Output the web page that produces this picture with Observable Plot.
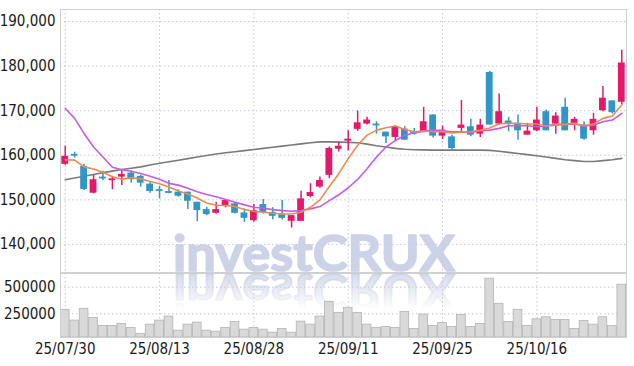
<!DOCTYPE html>
<html>
<head>
<meta charset="utf-8">
<script src="https://cdn.jsdelivr.net/npm/d3@7"></script>
<script src="https://cdn.jsdelivr.net/npm/@observablehq/plot@0.6"></script>
<style>
  html, body { margin: 0; padding: 0; background: #fff; overflow: hidden; }
  svg { display: block; }
</style>
</head>
<body>
<div id="chart"></div>
<script>
// ---- data ----
const dates = ["25/07/30","25/07/31","25/08/01","25/08/04","25/08/05","25/08/06","25/08/07","25/08/08","25/08/11","25/08/12",
  "25/08/13","25/08/14","25/08/18","25/08/19","25/08/20","25/08/21","25/08/22","25/08/25","25/08/26","25/08/27",
  "25/08/28","25/08/29","25/09/01","25/09/02","25/09/03","25/09/04","25/09/05","25/09/08","25/09/09","25/09/10",
  "25/09/11","25/09/12","25/09/15","25/09/16","25/09/17","25/09/18","25/09/19","25/09/22","25/09/23","25/09/24",
  "25/09/25","25/09/26","25/09/29","25/09/30","25/10/01","25/10/02","25/10/10","25/10/13","25/10/14","25/10/15",
  "25/10/16","25/10/17","25/10/20","25/10/21","25/10/22","25/10/23","25/10/24","25/10/27","25/10/28","25/10/29"];
const openP = [157970,160200,157500,151490,155100,154300,155100,156000,155260,153520,
  152300,151850,151720,151720,149460,147810,146980,148720,149100,147070,
  145330,148940,147200,146680,145170,145170,150750,152850,155490,161350,
  163160,165800,167000,167000,165190,164000,165870,165260,165260,169030,
  164290,164130,166030,166390,164740,178580,167000,167680,167150,164510,
  165490,169770,167000,170770,167160,166770,165490,170000,172190,171890];
const highP = [162030,160700,157970,155490,156390,155260,156770,156460,155490,153910,
  153000,154360,152260,151720,149460,148330,149460,150000,149200,147970,
  148940,150070,148200,149840,146460,151940,153610,155100,161870,163000,
  165480,169930,168510,167520,165190,166610,166400,166020,170770,169100,
  166550,164500,172260,168060,168060,178800,173770,168500,169030,167150,
  170770,170150,169550,172800,168510,167520,169410,175420,172190,183540];
const lowP = [157740,159400,152100,151360,154360,152260,153230,153750,152850,151490,
  150230,151360,150590,147810,145100,146460,146840,148200,146840,144950,
  144950,146840,145560,145490,143680,145170,150450,152620,154740,160750,
  160970,165350,166770,164740,162640,163230,163390,164510,165030,163900,
  163540,161130,165260,164130,163990,166770,166770,165260,163390,164510,
  165260,165490,164740,165490,165490,163390,164510,169770,169250,171290];
const closeP = [159770,159800,152330,154510,154700,154700,155710,154510,153750,151880,
  151900,151450,150810,149690,147590,146680,147810,149840,146980,145850,
  147590,147200,146300,145850,146460,150230,151650,154360,161510,162030,
  163610,167290,167900,166600,164130,166390,163390,164740,167520,164290,
  165640,161510,166770,164510,166770,166770,169770,166930,165490,165420,
  167900,165490,168800,165490,168060,163610,168060,172800,169550,180700];
const volume = [287000,186000,296600,211400,135700,135700,154600,116800,60000,148000,
  186000,223700,91200,148000,166900,91200,81800,116800,173500,100700,
  116800,100700,72300,107300,72300,176400,148000,223700,362800,258700,
  306000,258700,148000,116800,126200,116800,268200,107300,242600,135700,
  164100,126200,239800,126200,154600,580400,343900,173500,287100,135700,
  198200,217100,192500,192500,107300,183000,148000,217100,135700,523600];
const ma5 = [159000,158900,157400,156900,156200,155200,154600,154950,154700,154100,
  153600,152900,152000,151300,150400,149300,148800,148715,148490,147810,
  147430,147200,146980,146840,146840,147200,148330,150000,153000,155870,
  159250,162260,164510,165640,166160,166550,165800,165260,165450,165260,
  165260,165030,165150,165260,165600,166100,167080,167150,167150,167000,
  167000,166550,166770,166930,167150,166610,167000,168280,168800,171290];
const ma20 = [170540,168280,164900,161870,159620,157300,156770,156400,155900,155300,
  154600,153700,153300,152600,151800,151200,150700,150070,149460,148870,
  148330,148110,147810,147590,147430,147590,147970,148490,149840,151130,
  152710,154580,156960,159620,161870,163270,164510,165030,165420,165640,
  165490,165260,165260,165120,165500,165640,166030,166610,166610,166610,
  166390,166610,166930,166930,167000,166550,166770,167520,167900,169410];
const ma60 = [154500,154900,155300,155700,156100,156450,156800,157100,157400,157800,
  158200,158550,158900,159250,159600,159950,160300,160550,160800,161050,
  161300,161550,161800,162050,162300,162550,162800,163000,163000,162950,
  162900,162800,162500,162150,161850,161550,161350,161250,161200,161150,
  161150,161150,161150,161150,161150,161100,160900,160650,160400,160150,
  159900,159600,159300,159000,158800,158600,158600,158800,159000,159300];
const priceTicks = [140000,150000,160000,170000,180000,190000];
const volumeTicks = [250000,500000];
const dateTicks = ["25/07/30","25/08/13","25/08/28","25/09/11","25/09/25","25/10/16"];
const watermark = "investCRUX";

// ---- build table ----
const candles = dates.map((d, i) => ({
  date: d, open: openP[i], high: highP[i], low: lowP[i], close: closeP[i],
  volume: volume[i], ma5: ma5[i], ma20: ma20[i], ma60: ma60[i]
}));

const UP = "#e5196c", DOWN = "#2f96c7";
const GRID = "#c2c6dc";
const FRAME = "#d0d0d0";
const font = "'DejaVu Sans Condensed', sans-serif";
const dash = "1.5,2.5";
const colorOf = d => d.close >= d.open ? UP : DOWN;
const tickSet = new Set(dateTicks);

const priceChart = Plot.plot({
  width: 634, height: 273,
  marginLeft: 60, marginRight: 8, marginTop: 9, marginBottom: 1,
  style: {fontFamily: font, fontSize: "15px", color: "#1a1a1a", background: "white"},
  x: {type: "band", domain: dates, paddingInner: 0.28, paddingOuter: 0.14, round: false, axis: null},
  y: {domain: [133700, 192700], ticks: priceTicks, tickFormat: d3.format(","), tickSize: 0, tickPadding: 5, label: null},
  color: {type: "identity"},
  marks: [
    Plot.ruleY(priceTicks, {stroke: GRID, strokeDasharray: dash}),
    Plot.ruleX(dateTicks, {stroke: GRID, strokeDasharray: dash}),
    Plot.frame({stroke: FRAME}),
    Plot.line(candles, {x: "date", y: "ma60", stroke: "#7a7a7a", strokeWidth: 1.6}),
    Plot.ruleX(candles, {x: "date", y1: "low", y2: "high", stroke: colorOf, strokeWidth: 1.5}),
    Plot.barY(candles, {x: "date", y1: "open", y2: "close", fill: colorOf}),
    Plot.line(candles, {x: "date", y: "ma20", stroke: "#c65be6", strokeWidth: 1.6}),
    Plot.line(candles, {x: "date", y: "ma5", stroke: "#ef8a4e", strokeWidth: 1.6})
  ]
});

const VMIN = 27000;
const volumeChart = Plot.plot({
  width: 634, height: 93,
  marginLeft: 60, marginRight: 8, marginTop: 0, marginBottom: 29,
  style: {fontFamily: font, fontSize: "15px", color: "#1a1a1a", background: "white"},
  x: {type: "band", domain: dates, paddingInner: 0.08, paddingOuter: 0.04, round: false,
      tickSize: 0, tickPadding: 6, tickFormat: d => tickSet.has(d) ? d : "", label: null},
  y: {domain: [VMIN, 629000], ticks: volumeTicks, tickFormat: d => String(d), tickSize: 0, tickPadding: 5, label: null},
  marks: [
    Plot.ruleY(volumeTicks, {stroke: GRID, strokeDasharray: dash}),
    Plot.ruleX(dateTicks, {stroke: GRID, strokeDasharray: dash}),
    Plot.barY(candles, {x: "date", y1: () => VMIN, y2: "volume", fill: "#d9d9d9", stroke: "#b3b3b3", strokeWidth: 0.8}),
    Plot.frame({stroke: FRAME})
  ]
});

// watermark
const wmFont = "Lato, 'Open Sans', sans-serif";
d3.select(priceChart).append("text")
  .attr("x", 173).attr("y", 271)
  .attr("text-anchor", "start")
  .attr("textLength", 282).attr("lengthAdjust", "spacingAndGlyphs")
  .attr("font-family", wmFont).attr("font-weight", "bold").attr("font-size", 50)
  .attr("fill", "#c5cce4").attr("stroke", "#c5cce4").attr("stroke-width", 1.6)
  .attr("stroke-linejoin", "round").attr("opacity", 0.88)
  .text(watermark);

const vsel = d3.select(volumeChart);
const defs = vsel.append("defs");
const grad = defs.append("linearGradient").attr("id", "wmfade")
  .attr("gradientUnits", "userSpaceOnUse").attr("x1", 0).attr("y1", 0).attr("x2", 0).attr("y2", -36);
grad.append("stop").attr("offset", 0).attr("stop-color", "#c5cce4").attr("stop-opacity", 0.7);
grad.append("stop").attr("offset", 1).attr("stop-color", "#c5cce4").attr("stop-opacity", 0);
vsel.append("text")
  .attr("transform", "translate(0,0.5) scale(1,-1)")
  .attr("x", 173).attr("y", 0)
  .attr("text-anchor", "start")
  .attr("textLength", 282).attr("lengthAdjust", "spacingAndGlyphs")
  .attr("font-family", wmFont).attr("font-weight", "bold").attr("font-size", 50)
  .attr("fill", "url(#wmfade)").attr("stroke", "url(#wmfade)").attr("stroke-width", 1.6)
  .text(watermark);

const root = document.getElementById("chart");
root.appendChild(priceChart);
root.appendChild(volumeChart);
</script>
</body>
</html>
